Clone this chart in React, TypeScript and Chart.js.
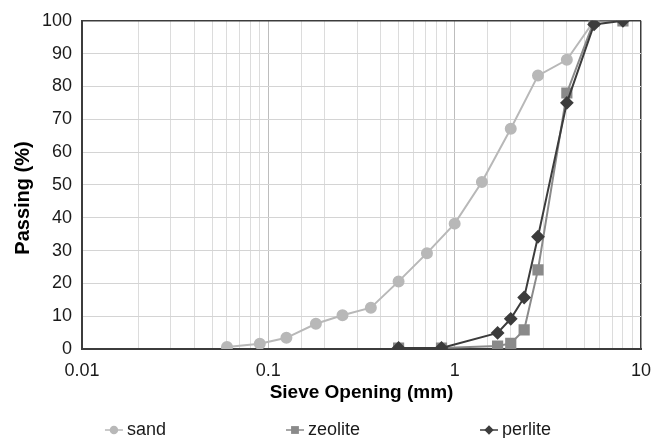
import React, { useEffect, useRef } from "react";
import { Chart, registerables } from "chart.js";

Chart.register(...registerables);

const seriesNames = ["sand", "zeolite", "perlite"];
const sandSizes = [0.06, 0.09, 0.125, 0.18, 0.25, 0.355, 0.5, 0.71, 1, 1.4, 2, 2.8, 4, 5.6, 8];
const sandPassing = [0.6, 1.6, 3.4, 7.7, 10.3, 12.6, 20.6, 29.2, 38.2, 50.9, 67.1, 83.3, 88.1, 100, 100];
const zeoliteSizes = [0.5, 0.85, 1.7, 2, 2.36, 2.8, 4, 5.6, 8];
const zeolitePassing = [0.3, 0.3, 0.9, 1.7, 5.8, 24.1, 78, 100, 100];
const perliteSizes = [0.5, 0.85, 1.7, 2, 2.36, 2.8, 4, 5.6, 8];
const perlitePassing = [0.3, 0.3, 4.9, 9.2, 15.7, 34.2, 75, 98.9, 100];
const xTickLabels = ["0.01", "0.1", "1", "10"];
const xTitle = "Sieve Opening (mm)";
const yTitle = "Passing (%)";

const FONT = '"Liberation Sans", Arial, sans-serif';

function toPoints(xs: number[], ys: number[]) {
  return xs.map((x, i) => ({ x, y: ys[i] }));
}

function drawMarker(ctx: CanvasRenderingContext2D, style: string, x: number, y: number, r: number, color: string) {
  ctx.fillStyle = color;
  ctx.beginPath();
  if (style === "circle") {
    ctx.arc(x, y, r, 0, Math.PI * 2);
  } else if (style === "rect") {
    const s = r * Math.SQRT1_2;
    ctx.rect(x - s, y - s, 2 * s, 2 * s);
  } else {
    ctx.moveTo(x - r, y);
    ctx.lineTo(x, y - r);
    ctx.lineTo(x + r, y);
    ctx.lineTo(x, y + r);
    ctx.closePath();
  }
  ctx.fill();
}

const legendPlugin = {
  id: "lineLegend",
  afterDraw(chart: any) {
    const ctx: CanvasRenderingContext2D = chart.ctx;
    ctx.save();
    // y axis title
    ctx.font = `bold 20px ${FONT}`;
    ctx.fillStyle = "#000";
    ctx.textAlign = "center";
    ctx.textBaseline = "middle";
    ctx.translate(23, 198);
    ctx.rotate(-Math.PI / 2);
    ctx.fillText(yTitle, 0, 0);
    ctx.restore();

    ctx.save();
    ctx.font = `18px ${FONT}`;
    ctx.textBaseline = "middle";
    const items = chart.data.datasets.map((ds: any) => ({
      ds,
      w: ctx.measureText(ds.label).width,
    }));
    const lineHalf = 9;
    const textGap = 13;
    const gap = 120;
    const total = items.reduce((s: number, it: any) => s + lineHalf + textGap + it.w, 0) + gap * (items.length - 1);
    let x = 328 - total / 2;
    const y = 430;
    items.forEach((it: any) => {
      const cx = x + lineHalf;
      ctx.strokeStyle = it.ds.borderColor;
      ctx.lineWidth = 1.5;
      ctx.beginPath();
      ctx.moveTo(cx - lineHalf, y);
      ctx.lineTo(cx + lineHalf, y);
      ctx.stroke();
      drawMarker(ctx, it.ds.pointStyle, cx, y, it.ds.pointRadius * 0.85, it.ds.pointBackgroundColor);
      ctx.fillStyle = "#1a1a1a";
      ctx.textAlign = "left";
      ctx.fillText(it.ds.label, cx + textGap, y);
      x = cx + textGap + it.w + gap;
    });
    ctx.restore();
  },
};

function isPow10(v: number) {
  const l = Math.log10(v);
  return Math.abs(l - Math.round(l)) < 1e-9;
}

export default function App() {
  const ref = useRef<HTMLCanvasElement | null>(null);
  useEffect(() => {
    if (!ref.current) return;
    const chart = new Chart(ref.current, {
      type: "line",
      data: {
        datasets: [
          {
            label: seriesNames[0],
            data: toPoints(sandSizes, sandPassing),
            borderColor: "#b8b8b8",
            backgroundColor: "#b8b8b8",
            pointBackgroundColor: "#b8b8b8",
            pointBorderColor: "#b8b8b8",
            pointStyle: "circle",
            pointRadius: 5,
            borderWidth: 2,
            order: 3,
          },
          {
            label: seriesNames[1],
            data: toPoints(zeoliteSizes, zeolitePassing),
            borderColor: "#8a8a8a",
            backgroundColor: "#8a8a8a",
            pointBackgroundColor: "#8a8a8a",
            pointBorderColor: "#8a8a8a",
            pointStyle: "rect",
            pointRadius: 6.5,
            borderWidth: 2,
            order: 2,
          },
          {
            label: seriesNames[2],
            data: toPoints(perliteSizes, perlitePassing),
            borderColor: "#3c3c3c",
            backgroundColor: "#3c3c3c",
            pointBackgroundColor: "#3c3c3c",
            pointBorderColor: "#3c3c3c",
            pointStyle: "rectRot",
            pointRadius: 5.5,
            borderWidth: 2,
            order: 1,
          },
        ],
      } as any,
      options: {
        animation: false,
        responsive: false,
        layout: { padding: { left: 0, right: 22, top: 19, bottom: 25 } },
        plugins: {
          legend: { display: false },
          tooltip: { enabled: false },
        },
        scales: {
          x: {
            type: "logarithmic",
            min: 0.01,
            max: 10,
            afterFit: (s: any) => {
              s.height = 64;
            },
            border: { display: true, color: "#3c3c3c", width: 2 },
            grid: {
              drawTicks: false,
              color: (c: any) => {
                const v = c.tick ? c.tick.value : 0;
                if (Math.abs(v - 10) < 1e-6) return "#3c3c3c";
                if (isPow10(v)) return "#bdbdbd";
                return "#dcdcdc";
              },
              lineWidth: (c: any) => {
                const v = c.tick ? c.tick.value : 0;
                return Math.abs(v - 10) < 1e-6 ? 1.5 : 1;
              },
            },
            ticks: {
              autoSkip: false,
              maxRotation: 0,
              padding: 11,
              color: "#1a1a1a",
              font: { family: FONT, size: 18 },
              callback: (value: any) => {
                const v = Number(value);
                const lbl = xTickLabels.find((l) => Math.abs(Number(l) - v) / v < 1e-6);
                return lbl ?? "";
              },
            },
            title: {
              display: true,
              text: xTitle,
              color: "#000",
              font: { family: FONT, size: 19, weight: "bold" },
              padding: { top: 0, bottom: 9 },
            },
          },
          y: {
            min: 0,
            max: 100,
            afterFit: (s: any) => {
              s.width = 82;
            },
            border: { display: true, color: "#3c3c3c", width: 2 },
            grid: {
              drawTicks: false,
              color: (c: any) => {
                const v = c.tick ? c.tick.value : 0;
                if (v === 100 || v === 0) return "#3c3c3c";
                return "#d4d4d4";
              },
              lineWidth: (c: any) => {
                const v = c.tick ? c.tick.value : 0;
                return v === 100 ? 1.5 : 1;
              },
            },
            ticks: {
              stepSize: 10,
              padding: 10,
              color: "#1a1a1a",
              font: { family: FONT, size: 18 },
            },
            title: { display: false },
          },
        },
      } as any,
      plugins: [legendPlugin],
    });
    return () => chart.destroy();
  }, []);
  return (
    <div style={{ position: "absolute", left: 0, top: 0, width: 663, height: 438, background: "#fff" }}>
      <canvas ref={ref} width={663} height={438} />
    </div>
  );
}
